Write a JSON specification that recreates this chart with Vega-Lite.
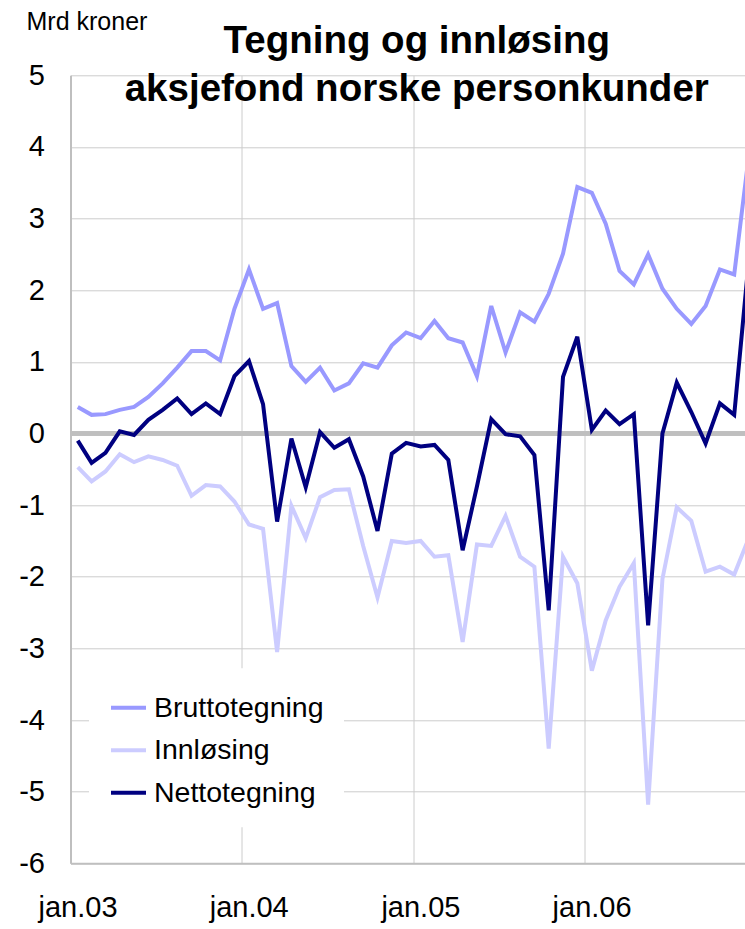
{
  "$schema": "https://vega.github.io/schema/vega-lite/v6.json",
  "width": 674.5,
  "height": 788,
  "autosize": "none",
  "padding": {"left": 70.5, "top": 75.3, "right": 0, "bottom": 65.7},
  "background": "white",
  "config": {"font": "Liberation Sans", "view": {"stroke": null}},
  "title": {
    "text": ["Tegning og innløsing", "aksjefond norske personkunder"],
    "fontSize": 38.5,
    "fontWeight": "bold",
    "color": "black",
    "anchor": "middle",
    "frame": "group",
    "offset": -32,
    "dy": 68,
    "dx": 9,
    "lineHeight": 48
  },
  "data": {
    "values": [
      {"month": "2003-01", "Bruttotegning": 0.37, "Innløsing": -0.47, "Nettotegning": -0.10},
      {"month": "2003-02", "Bruttotegning": 0.26, "Innløsing": -0.67, "Nettotegning": -0.41},
      {"month": "2003-03", "Bruttotegning": 0.27, "Innløsing": -0.53, "Nettotegning": -0.27},
      {"month": "2003-04", "Bruttotegning": 0.33, "Innløsing": -0.29, "Nettotegning": 0.03},
      {"month": "2003-05", "Bruttotegning": 0.37, "Innløsing": -0.40, "Nettotegning": -0.02},
      {"month": "2003-06", "Bruttotegning": 0.51, "Innløsing": -0.32, "Nettotegning": 0.19},
      {"month": "2003-07", "Bruttotegning": 0.70, "Innløsing": -0.37, "Nettotegning": 0.33},
      {"month": "2003-08", "Bruttotegning": 0.92, "Innløsing": -0.45, "Nettotegning": 0.49},
      {"month": "2003-09", "Bruttotegning": 1.15, "Innløsing": -0.87, "Nettotegning": 0.27},
      {"month": "2003-10", "Bruttotegning": 1.15, "Innløsing": -0.72, "Nettotegning": 0.42},
      {"month": "2003-11", "Bruttotegning": 1.02, "Innløsing": -0.74, "Nettotegning": 0.27},
      {"month": "2003-12", "Bruttotegning": 1.74, "Innløsing": -0.95, "Nettotegning": 0.80},
      {"month": "2004-01", "Bruttotegning": 2.29, "Innløsing": -1.27, "Nettotegning": 1.01},
      {"month": "2004-02", "Bruttotegning": 1.74, "Innløsing": -1.33, "Nettotegning": 0.41},
      {"month": "2004-03", "Bruttotegning": 1.82, "Innløsing": -3.05, "Nettotegning": -1.23},
      {"month": "2004-04", "Bruttotegning": 0.94, "Innløsing": -1.01, "Nettotegning": -0.07},
      {"month": "2004-05", "Bruttotegning": 0.72, "Innløsing": -1.46, "Nettotegning": -0.75},
      {"month": "2004-06", "Bruttotegning": 0.92, "Innløsing": -0.89, "Nettotegning": 0.02},
      {"month": "2004-07", "Bruttotegning": 0.60, "Innløsing": -0.79, "Nettotegning": -0.20},
      {"month": "2004-08", "Bruttotegning": 0.70, "Innløsing": -0.78, "Nettotegning": -0.08},
      {"month": "2004-09", "Bruttotegning": 0.98, "Innløsing": -1.57, "Nettotegning": -0.60},
      {"month": "2004-10", "Bruttotegning": 0.92, "Innløsing": -2.29, "Nettotegning": -1.36},
      {"month": "2004-11", "Bruttotegning": 1.23, "Innløsing": -1.50, "Nettotegning": -0.28},
      {"month": "2004-12", "Bruttotegning": 1.41, "Innløsing": -1.53, "Nettotegning": -0.13},
      {"month": "2005-01", "Bruttotegning": 1.33, "Innløsing": -1.50, "Nettotegning": -0.18},
      {"month": "2005-02", "Bruttotegning": 1.57, "Innløsing": -1.72, "Nettotegning": -0.16},
      {"month": "2005-03", "Bruttotegning": 1.33, "Innløsing": -1.70, "Nettotegning": -0.37},
      {"month": "2005-04", "Bruttotegning": 1.27, "Innløsing": -2.91, "Nettotegning": -1.63},
      {"month": "2005-05", "Bruttotegning": 0.80, "Innløsing": -1.55, "Nettotegning": -0.74},
      {"month": "2005-06", "Bruttotegning": 1.78, "Innløsing": -1.57, "Nettotegning": 0.20},
      {"month": "2005-07", "Bruttotegning": 1.13, "Innløsing": -1.15, "Nettotegning": -0.01},
      {"month": "2005-08", "Bruttotegning": 1.69, "Innløsing": -1.72, "Nettotegning": -0.04},
      {"month": "2005-09", "Bruttotegning": 1.56, "Innløsing": -1.86, "Nettotegning": -0.30},
      {"month": "2005-10", "Bruttotegning": 1.95, "Innløsing": -4.40, "Nettotegning": -2.47},
      {"month": "2005-11", "Bruttotegning": 2.51, "Innløsing": -1.72, "Nettotegning": 0.79},
      {"month": "2005-12", "Bruttotegning": 3.44, "Innløsing": -2.09, "Nettotegning": 1.35},
      {"month": "2006-01", "Bruttotegning": 3.36, "Innløsing": -3.31, "Nettotegning": 0.05},
      {"month": "2006-02", "Bruttotegning": 2.93, "Innløsing": -2.61, "Nettotegning": 0.32},
      {"month": "2006-03", "Bruttotegning": 2.27, "Innløsing": -2.14, "Nettotegning": 0.13},
      {"month": "2006-04", "Bruttotegning": 2.08, "Innløsing": -1.81, "Nettotegning": 0.27},
      {"month": "2006-05", "Bruttotegning": 2.50, "Innløsing": -5.18, "Nettotegning": -2.68},
      {"month": "2006-06", "Bruttotegning": 2.02, "Innløsing": -2.03, "Nettotegning": 0.00},
      {"month": "2006-07", "Bruttotegning": 1.74, "Innløsing": -1.03, "Nettotegning": 0.71},
      {"month": "2006-08", "Bruttotegning": 1.53, "Innløsing": -1.22, "Nettotegning": 0.30},
      {"month": "2006-09", "Bruttotegning": 1.78, "Innløsing": -1.93, "Nettotegning": -0.14},
      {"month": "2006-10", "Bruttotegning": 2.29, "Innløsing": -1.86, "Nettotegning": 0.42},
      {"month": "2006-11", "Bruttotegning": 2.22, "Innløsing": -1.97, "Nettotegning": 0.26},
      {"month": "2006-12", "Bruttotegning": 3.85, "Innløsing": -1.47, "Nettotegning": 2.38}
    ],
    "format": {"parse": {"month": "utc:'%Y-%m'"}}
  },
  "transform": [
    {"fold": ["Bruttotegning", "Innløsing", "Nettotegning"], "as": ["serie", "verdi"]}
  ],
  "layer": [
    {
      "mark": {"type": "rule", "color": "#BFBFBF", "strokeWidth": 4},
      "encoding": {"y": {"datum": 0, "type": "quantitative"}}
    },
    {
      "mark": {"type": "line", "strokeWidth": 4, "clip": true},
      "encoding": {
        "x": {
          "field": "month",
          "timeUnit": "utcyearmonth",
          "type": "temporal",
          "bandPosition": 0.5,
          "scale": {
            "domain": [
              {"year": 2003, "month": 1, "date": 1, "utc": true},
              {"year": 2006, "month": 12, "date": 9, "utc": true}
            ]
          },
          "axis": {
            "values": [
              {"year": 2003, "month": 1, "date": 1, "utc": true},
              {"year": 2004, "month": 1, "date": 1, "utc": true},
              {"year": 2005, "month": 1, "date": 1, "utc": true},
              {"year": 2006, "month": 1, "date": 1, "utc": true}
            ],
            "labelExpr": "'jan.' + utcFormat(datum.value, '%y')",
            "labelOffset": 7,
            "labelPadding": 30,
            "labelFontSize": 29,
            "labelColor": "black",
            "labelFlush": false,
            "labelOverlap": false,
            "labelBound": false,
            "ticks": false,
            "grid": true,
            "gridColor": "#CCCCCC",
            "gridWidth": 1,
            "domainColor": "#BFBFBF",
            "domainWidth": 2,
            "title": null
          }
        },
        "y": {
          "field": "verdi",
          "type": "quantitative",
          "scale": {"domain": [-6, 5], "nice": false, "zero": false},
          "axis": {
            "values": [-6, -5, -4, -3, -2, -1, 0, 1, 2, 3, 4, 5],
            "labelExpr": "'' + datum.value",
            "labelFontSize": 29,
            "labelPadding": 26,
            "labelColor": "black",
            "ticks": false,
            "grid": true,
            "gridColor": "#CCCCCC",
            "gridWidth": 1,
            "domainColor": "#BFBFBF",
            "domainWidth": 2,
            "title": "Mrd kroner",
            "titleAngle": 0,
            "titleAlign": "left",
            "titleBaseline": "alphabetic",
            "titleX": -44.5,
            "titleY": -46,
            "titleFontSize": 25,
            "titleFontWeight": "normal",
            "titleColor": "black"
          }
        },
        "color": {
          "field": "serie",
          "type": "nominal",
          "scale": {
            "domain": ["Bruttotegning", "Innløsing", "Nettotegning"],
            "range": ["#9999FF", "#CCCCFF", "#000080"]
          },
          "legend": {
            "title": null,
            "orient": "none",
            "legendX": 18.5,
            "legendY": 593,
            "fillColor": "white",
            "padding": 20,
            "symbolType": "stroke",
            "symbolSize": 1225,
            "symbolStrokeWidth": 4,
            "labelFontSize": 28.5,
            "labelColor": "black",
            "labelOffset": 6,
            "labelLimit": 400,
            "rowPadding": 8.5
          }
        }
      }
    }
  ]
}
